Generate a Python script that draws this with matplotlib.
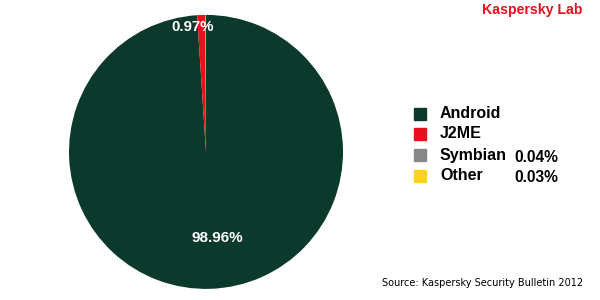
import matplotlib
matplotlib.use("Agg")
import matplotlib.pyplot as plt
from matplotlib.patches import Rectangle

platforms = ["Android", "J2ME", "Symbian", "Other"]
shares = [98.96, 0.97, 0.04, 0.03]
colors = ["#0b3a2d", "#e8101e", "#888888", "#fcd21c"]
legend_values = ["", "", "0.04%", "0.03%"]

fig = plt.figure(figsize=(6, 3), dpi=100)
ax = fig.add_axes([0.115, 0.037, 0.4567, 0.9133])
ax.pie(shares, colors=colors, startangle=90, counterclock=False,
       wedgeprops=dict(linewidth=0))
ax.set_aspect("equal")
ax.set_xlim(-1, 1)
ax.set_ylim(-1, 1)

# slice labels
ax.text(-0.10, 0.915, f"{shares[1]:.2f}%", color="white", fontsize=10.8,
        fontweight="bold", family="Liberation Sans", ha="center", va="center")
ax.text(0.085, -0.63, f"{shares[0]:.2f}%", color="white", fontsize=11,
        fontweight="bold", family="Liberation Sans", ha="center", va="center")

# legend
rows_y = [114, 134, 155, 176]
for name, col, val, y in zip(platforms, colors, legend_values, rows_y):
    fig.patches.append(Rectangle((414 / 600, 1 - (y + 6) / 300), 12 / 600, 12 / 300,
                                 transform=fig.transFigure, color=col))
    fig.text(440 / 600, 1 - y / 300, name, fontsize=11.5, fontweight="bold",
             family="Liberation Sans", va="center", ha="left")
    if val:
        fig.text(514 / 600, 1 - (y + 2) / 300, val, fontsize=11.2, fontweight="bold",
                 family="Liberation Sans", va="center", ha="left")

fig.text(583 / 600, 1 - 10 / 300, "Kaspersky Lab", color="#e8101e", fontsize=10.2,
         fontweight="bold", family="Liberation Sans", ha="right", va="center")
fig.text(583 / 600, 1 - 283 / 300, "Source: Kaspersky Security Bulletin 2012",
         fontsize=7, family="DejaVu Sans", ha="right", va="center")

fig.savefig("out.png", dpi=100)
